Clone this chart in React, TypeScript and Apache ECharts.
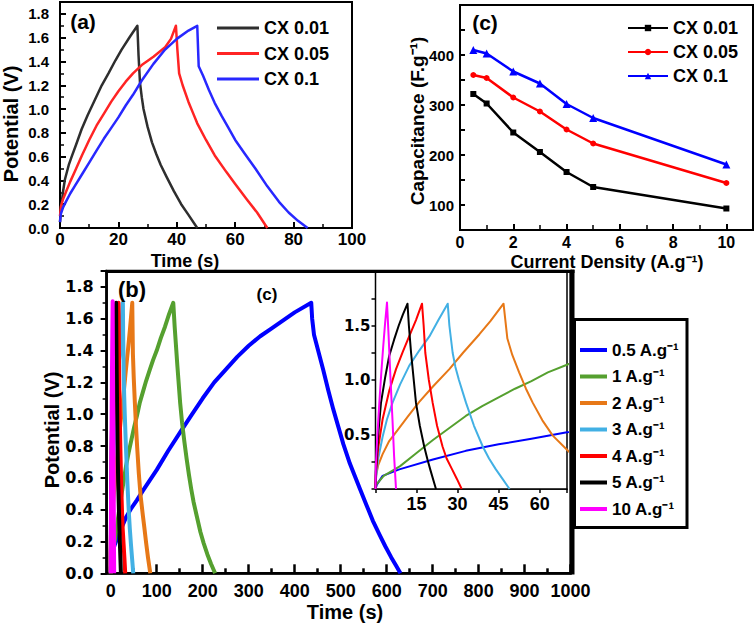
import React, { useEffect, useRef } from 'react';
import * as echarts from 'echarts';

const AR = '"Liberation Sans", Arial, Helvetica, sans-serif';
const DV = '"DejaVu Sans", Verdana, sans-serif';

// ---------------- panel (a): GCD of three electrodes ----------------
const aNames = ['CX 0.01', 'CX 0.05', 'CX 0.1'];
const aColors = ['#2e2e2e', '#ff2424', '#2828ff'];
const aCX001: [number, number][] = [
  [0, 0.05], [0.3, 0.15], [1, 0.3], [1.7, 0.41], [3, 0.53], [4, 0.6], [5.5, 0.7], [7.4, 0.83], [9.5, 0.95], [12, 1.08], [14.3, 1.2],
  [16.6, 1.3], [19, 1.41], [21.1, 1.5], [24, 1.61], [26.5, 1.7],
  [26.9, 1.45], [27.4, 1.22], [28, 1.1], [28.6, 1.0], [30, 0.85], [31.5, 0.72], [33, 0.62], [34.5, 0.53], [36.5, 0.43], [39, 0.31],
  [41.5, 0.2], [44, 0.11], [47, 0],
];
const aCX005: [number, number][] = [
  [0, 0.1], [0.3, 0.18], [1, 0.24], [2, 0.3], [3.5, 0.39], [5, 0.47], [7.5, 0.61], [10, 0.74], [12.5, 0.86], [15, 0.96], [17.5, 1.06],
  [20, 1.15], [22.5, 1.23], [25, 1.3], [28, 1.37], [32, 1.44], [36, 1.52], [38, 1.59], [39.7, 1.7],
  [40.2, 1.5], [40.8, 1.3], [42, 1.2], [44, 1.06], [45.5, 0.97], [47, 0.88], [50, 0.74], [53, 0.61], [57, 0.47], [60, 0.37],
  [64, 0.24], [67.5, 0.13], [71, 0],
];
const aCX01: [number, number][] = [
  [0, 0.05], [0.3, 0.12], [1, 0.17], [2, 0.22], [3.5, 0.29], [5, 0.35], [7.5, 0.45], [10, 0.55], [12.5, 0.65], [15, 0.75], [17.5, 0.84],
  [20, 0.93], [22.5, 1.03], [25, 1.12], [28, 1.24], [32, 1.38], [36, 1.5], [40, 1.59], [44, 1.66], [47, 1.7],
  [47.5, 1.36], [49, 1.28], [51, 1.16], [53, 1.05], [55.4, 0.94], [57.5, 0.85], [60, 0.74], [63.4, 0.62], [66.9, 0.5], [71, 0.35],
  [75, 0.22], [78.3, 0.13], [81.5, 0.06], [84.8, 0],
];

// ---------------- panel (c): capacitance vs current density ----------------
const cCurrent = [0.5, 1, 2, 3, 4, 5, 10];
const cCX001 = [322, 303, 245, 206, 166, 136, 93];
const cCX005 = [360, 354, 315, 287, 251, 223, 144];
const cCX01 = [410, 403, 367, 343, 302, 274, 181];
const cSymbols = ['rect', 'circle', 'triangle'];
const cColors = ['#000000', '#ff0000', '#0000ff'];
const cYLabels = [100, 200, 300, 400];

// ---------------- panel (b): GCD at several current densities ----------------
const bNames = ['0.5 A.g⁻¹', '1 A.g⁻¹', '2 A.g⁻¹', '3 A.g⁻¹', '4 A.g⁻¹', '5 A.g⁻¹', '10 A.g⁻¹'];
const bColors = ['#0000ff', '#55a02f', '#e77817', '#42b0e4', '#ff0000', '#000000', '#ff00ff'];
const b05: [number, number][] = [
  [0, 0], [0.5, 0.04], [2.6, 0.12], [8.7, 0.18], [21, 0.27], [33, 0.35], [45, 0.41], [57, 0.46], [70, 0.52], [100, 0.65], [125, 0.77],
  [154, 0.9], [177, 1.0], [200, 1.1], [225, 1.2], [250, 1.28], [275, 1.36], [300, 1.43], [325, 1.49], [350, 1.54], [375, 1.59],
  [400, 1.64], [436, 1.7],
  [438, 1.6], [442, 1.5], [452, 1.39], [462, 1.28], [473, 1.15], [484, 1.03], [495, 0.92], [506, 0.81], [520, 0.69], [531, 0.61],
  [542, 0.53], [556, 0.43], [570, 0.33], [585, 0.24], [597, 0.17], [610, 0.1], [620, 0.05], [630, 0],
];
const b1: [number, number][] = [
  [0, 0], [0.3, 0.04], [3, 0.12], [9, 0.21], [15, 0.33], [21, 0.45], [27, 0.56], [33, 0.67], [39, 0.76], [45, 0.84], [51, 0.92],
  [57, 0.99], [63, 1.07], [70, 1.14], [77, 1.21], [85, 1.28], [92, 1.34], [100, 1.4], [109, 1.48], [118, 1.55], [127, 1.63], [136, 1.7],
  [139, 1.55], [145, 1.3], [151, 1.07], [155, 0.95], [160, 0.83], [165, 0.72], [170, 0.62], [175, 0.53], [180, 0.45], [187, 0.36],
  [195, 0.26], [202, 0.19], [210, 0.12], [218, 0.06], [227, 0],
];
const b2: [number, number][] = [
  [0, 0], [0.2, 0.12], [1, 0.22], [2.6, 0.32], [5, 0.44], [8.7, 0.56], [12, 0.67], [16, 0.8], [21, 0.94], [27, 1.1], [32, 1.25],
  [38, 1.42], [42, 1.54], [46.8, 1.7],
  [48.2, 1.38], [50, 1.23], [52.5, 1.07], [55, 0.92], [57.5, 0.79], [61, 0.63], [64.8, 0.49], [70, 0.36], [73, 0.29], [77, 0.19],
  [81, 0.1], [86, 0],
];
const b3: [number, number][] = [
  [0, 0], [0.2, 0.1], [1, 0.28], [2.6, 0.48], [4.2, 0.64], [6.2, 0.79], [9, 0.96], [12.3, 1.13], [16, 1.27], [19.7, 1.4], [23, 1.55],
  [26.4, 1.7],
  [27, 1.5], [28.2, 1.25], [29.2, 1.12], [30.5, 1.0], [33.1, 0.79], [36, 0.58], [39.2, 0.39], [41.5, 0.28], [44, 0.18], [46.5, 0.09],
  [49, 0],
];
const b4: [number, number][] = [
  [0, 0], [0.1, 0.12], [1, 0.38], [2.6, 0.64], [5, 0.9], [7.5, 1.1], [10, 1.26], [12.3, 1.4], [14.8, 1.55], [17, 1.7],
  [17.6, 1.5], [18.2, 1.25], [19.5, 1.0], [20.9, 0.79], [22.5, 0.58], [24.5, 0.39], [26, 0.28], [28, 0.18], [29.8, 0.09], [31.5, 0],
];
const b5: [number, number][] = [
  [0, 0], [0.1, 0.15], [1, 0.5], [2, 0.79], [3.5, 1.02], [5, 1.22], [6.8, 1.37], [8.5, 1.5], [10, 1.6], [11.7, 1.7],
  [12.2, 1.5], [13, 1.25], [14.8, 0.79], [16.2, 0.58], [17.8, 0.39], [19, 0.27], [20, 0.18], [22.1, 0],
];
const b10: [number, number][] = [
  [0, 0], [0.1, 0.2], [0.7, 0.5], [1.4, 0.79], [2.1, 1.06], [2.8, 1.3], [3.5, 1.52], [4.2, 1.71], [4.8, 1.4], [5.5, 1.0], [6.2, 0.64],
  [6.8, 0.3], [7.5, 0],
];
const bXLabels = [0, 100, 200, 300, 400, 500, 600, 700, 800, 900, 1000];
const bXMinor = [50, 150, 250, 350, 450, 550, 650, 750, 850, 950];
const insetXLabels = [15, 30, 45, 60];
const insetYLabels = [0.5, 1.0, 1.5];

const bold = (size: number, family = AR) => ({ color: '#000', fontFamily: family, fontWeight: 'bold' as const, fontSize: size });
const blackLine = (w: number) => ({ show: true, onZero: false, lineStyle: { color: '#000', width: w } });

function buildOption() {
  const aData = [aCX001, aCX005, aCX01];
  const cData = [cCX001, cCX005, cCX01];
  const bData = [b05, b1, b2, b3, b4, b5, b10];

  const series: any[] = [];
  aData.forEach((d, i) =>
    series.push({
      type: 'line', name: aNames[i], xAxisIndex: 0, yAxisIndex: 0, data: d,
      symbol: 'none', lineStyle: { color: aColors[i], width: 2.5, join: 'round' }, itemStyle: { color: aColors[i] },
    })
  );
  cData.forEach((vals, i) =>
    series.push({
      type: 'line', name: aNames[i] + ' ', xAxisIndex: 1, yAxisIndex: 1,
      data: cCurrent.map((x, j) => [x, vals[j]]),
      symbol: cSymbols[i], symbolSize: i === 2 ? 8 : 6, showSymbol: true,
      lineStyle: { color: cColors[i], width: 2.5 }, itemStyle: { color: cColors[i] },
    })
  );
  bData.forEach((d, i) =>
    series.push({
      type: 'line', name: bNames[i], xAxisIndex: 2, yAxisIndex: 2, data: d,
      symbol: 'none', lineStyle: { color: bColors[i], width: 4, join: 'round' }, itemStyle: { color: bColors[i] },
    })
  );
  bData.forEach((d, i) =>
    series.push({
      type: 'line', name: bNames[i], xAxisIndex: 4, yAxisIndex: 3, data: d, z: 5,
      symbol: 'none', lineStyle: { color: bColors[i], width: 2, join: 'round' }, itemStyle: { color: bColors[i] },
    })
  );

  const near = (v: number, arr: number[]) => arr.some((a) => Math.abs(a - v) < 1e-6);

  return {
    animation: false,
    backgroundColor: '#fff',
    grid: [
      { left: 60, top: 2, width: 292, height: 226, show: true, borderColor: '#000', borderWidth: 2 },
      { left: 460, top: 5, width: 293, height: 225, show: true, borderColor: '#000', borderWidth: 2 },
      { left: 106.6, top: 271, width: 464, height: 302.3, show: true, borderColor: '#000', borderWidth: 2.5 },
      { left: 375.5, top: 271, width: 191.5, height: 218, show: true, borderColor: '#000', borderWidth: 1.5, backgroundColor: '#fff', z: 3 },
    ],
    xAxis: [
      {
        type: 'value', gridIndex: 0, min: 0, max: 100, interval: 20, position: 'bottom',
        axisLine: blackLine(2), splitLine: { show: false },
        axisTick: { inside: true, length: 6, lineStyle: { color: '#000', width: 2 } },
        minorTick: { show: true, splitNumber: 2, length: 4, lineStyle: { color: '#000', width: 1.5 } },
        axisLabel: { ...bold(17), margin: 3, formatter: (v: number) => String(v) },
      },
      {
        type: 'value', gridIndex: 1, min: 0, max: 11, interval: 2, position: 'bottom',
        axisLine: blackLine(2), splitLine: { show: false },
        axisTick: { inside: true, length: 6, lineStyle: { color: '#000', width: 2 } },
        minorTick: { show: true, splitNumber: 2, length: 5, lineStyle: { color: '#000', width: 1.5 } },
        axisLabel: { ...bold(16), margin: 4, formatter: (v: number) => (v <= 10 && v % 2 === 0 ? String(v) : '') },
      },
      {
        type: 'value', gridIndex: 2, min: -9, max: 1000, position: 'bottom',
        axisLine: blackLine(2.5), splitLine: { show: false },
        axisTick: { inside: true, length: 9, customValues: bXLabels, lineStyle: { color: '#000', width: 2.5 } },
        axisLabel: { ...bold(18), margin: 9, customValues: bXLabels, formatter: (v: number) => String(v) },
      },
      {
        type: 'value', gridIndex: 2, min: -9, max: 1000, position: 'bottom',
        axisLine: { show: false, onZero: false }, splitLine: { show: false },
        axisTick: { inside: true, length: 5, customValues: bXMinor, lineStyle: { color: '#000', width: 2.5 } },
        axisLabel: { show: false },
      },
      {
        type: 'value', gridIndex: 3, min: 0, max: 70, interval: 15, position: 'bottom',
        axisLine: blackLine(1.5), splitLine: { show: false },
        axisTick: { inside: false, length: 4, lineStyle: { color: '#000', width: 1.5 } },
        axisLabel: { ...bold(18), margin: 6, formatter: (v: number) => (near(v, insetXLabels) ? String(v) : '') },
      },
    ],
    yAxis: [
      {
        type: 'value', gridIndex: 0, min: 0, max: 1.9, interval: 0.2,
        axisLine: blackLine(2), splitLine: { show: false },
        axisTick: { inside: true, length: 6, lineStyle: { color: '#000', width: 2 } },
        minorTick: { show: true, splitNumber: 2, length: 4, lineStyle: { color: '#000', width: 1.5 } },
        axisLabel: { ...bold(15), margin: 11, formatter: (v: number) => (v > 1.85 ? '' : v.toFixed(1)) },
      },
      {
        type: 'value', gridIndex: 1, min: 50, max: 500, interval: 50,
        axisLine: blackLine(2), splitLine: { show: false },
        axisTick: { inside: true, length: 5, lineStyle: { color: '#000', width: 2 } },
        axisLabel: { ...bold(15), margin: 6, formatter: (v: number) => (near(v, cYLabels) ? String(v) : '') },
      },
      {
        type: 'value', gridIndex: 2, min: 0, max: 1.9, interval: 0.2,
        axisLine: blackLine(2.5), splitLine: { show: false },
        axisTick: { inside: false, length: 6, lineStyle: { color: '#000', width: 2 } },
        minorTick: { show: true, splitNumber: 2, length: 4, lineStyle: { color: '#000', width: 1.5 } },
        axisLabel: { ...bold(16, DV), margin: 13, formatter: (v: number) => (v > 1.85 ? '' : v.toFixed(1)) },
      },
      {
        type: 'value', gridIndex: 3, min: 0, max: 2, interval: 0.25,
        axisLine: blackLine(1.5), splitLine: { show: false },
        axisTick: { inside: false, length: 4, lineStyle: { color: '#000', width: 1.5 } },
        axisLabel: { ...bold(15, DV), margin: 5, formatter: (v: number) => (near(v, insetYLabels) ? v.toFixed(1) : '') },
      },
    ],
    legend: [
      {
        data: aNames, left: 217, top: 19, orient: 'vertical', icon: 'rect', itemWidth: 42, itemHeight: 3, itemGap: 7.5,
        padding: 0, selectedMode: false, textStyle: bold(18),
      },
      {
        data: aNames.map((n) => n + ' '), left: 627, top: 19, orient: 'vertical', itemWidth: 40, itemHeight: 8, itemGap: 6,
        padding: 0, selectedMode: false, textStyle: bold(18), formatter: (n: string) => n.trim(),
      },
      {
        data: bNames, left: 580, top: 341.5, orient: 'vertical', icon: 'rect', itemWidth: 27, itemHeight: 4, itemGap: 9.5,
        padding: 0, selectedMode: false, textStyle: bold(17),
      },
    ],
    graphic: [
      { type: 'rect', z: 1, shape: { x: 574.5, y: 319.5, width: 112.5, height: 208 }, style: { fill: '#fff', stroke: '#000', lineWidth: 3 } },
      { type: 'line', z: 10, shape: { x1: 572.5, y1: 269.5, x2: 572.5, y2: 574.5 }, style: { stroke: '#000', lineWidth: 4 } },
      { type: 'line', z: 10, shape: { x1: 105.5, y1: 271.5, x2: 574.5, y2: 271.5 }, style: { stroke: '#000', lineWidth: 3 } },
      { type: 'text', z: 10, x: 11, y: 124, rotation: Math.PI / 2, style: { text: 'Potential (V)', fill: '#000', font: `bold 20px ${AR}`, textAlign: 'center', textVerticalAlign: 'middle' } },
      { type: 'text', z: 10, x: 185, y: 261, style: { text: 'Time (s)', fill: '#000', font: `bold 18px ${AR}`, textAlign: 'center', textVerticalAlign: 'middle' } },
      { type: 'text', z: 10, x: 417.5, y: 121, rotation: Math.PI / 2, style: { text: 'Capacitance (F.g⁻¹)', fill: '#000', font: `bold 19px ${AR}`, textAlign: 'center', textVerticalAlign: 'middle' } },
      { type: 'text', z: 10, x: 607, y: 262, style: { text: 'Current Density (A.g⁻¹)', fill: '#000', font: `bold 18px ${AR}`, textAlign: 'center', textVerticalAlign: 'middle' } },
      { type: 'text', z: 10, x: 52, y: 430, rotation: Math.PI / 2, style: { text: 'Potential (V)', fill: '#000', font: `bold 20px ${AR}`, textAlign: 'center', textVerticalAlign: 'middle' } },
      { type: 'text', z: 10, x: 345, y: 612, style: { text: 'Time (s)', fill: '#000', font: `bold 20px ${AR}`, textAlign: 'center', textVerticalAlign: 'middle' } },
      { type: 'text', z: 10, x: 83, y: 21, style: { text: '(a)', fill: '#000', font: `bold 21px ${AR}`, textAlign: 'center', textVerticalAlign: 'middle' } },
      { type: 'text', z: 10, x: 485, y: 22, style: { text: '(c)', fill: '#000', font: `bold 21px ${AR}`, textAlign: 'center', textVerticalAlign: 'middle' } },
      { type: 'text', z: 10, x: 132, y: 289, style: { text: '(b)', fill: '#000', font: `bold 22px ${AR}`, textAlign: 'center', textVerticalAlign: 'middle' } },
      { type: 'text', z: 10, x: 267, y: 294, style: { text: '(c)', fill: '#000', font: `bold 17px ${AR}`, textAlign: 'center', textVerticalAlign: 'middle' } },
    ],
    series,
  };
}

export default function App() {
  const ref = useRef<HTMLDivElement>(null);
  useEffect(() => {
    document.body.style.margin = '0';
    if (!ref.current) return;
    const chart = echarts.init(ref.current, undefined, { renderer: 'svg' });
    chart.setOption(buildOption() as any);
    return () => chart.dispose();
  }, []);
  return <div ref={ref} style={{ width: 756, height: 625 }} />;
}
